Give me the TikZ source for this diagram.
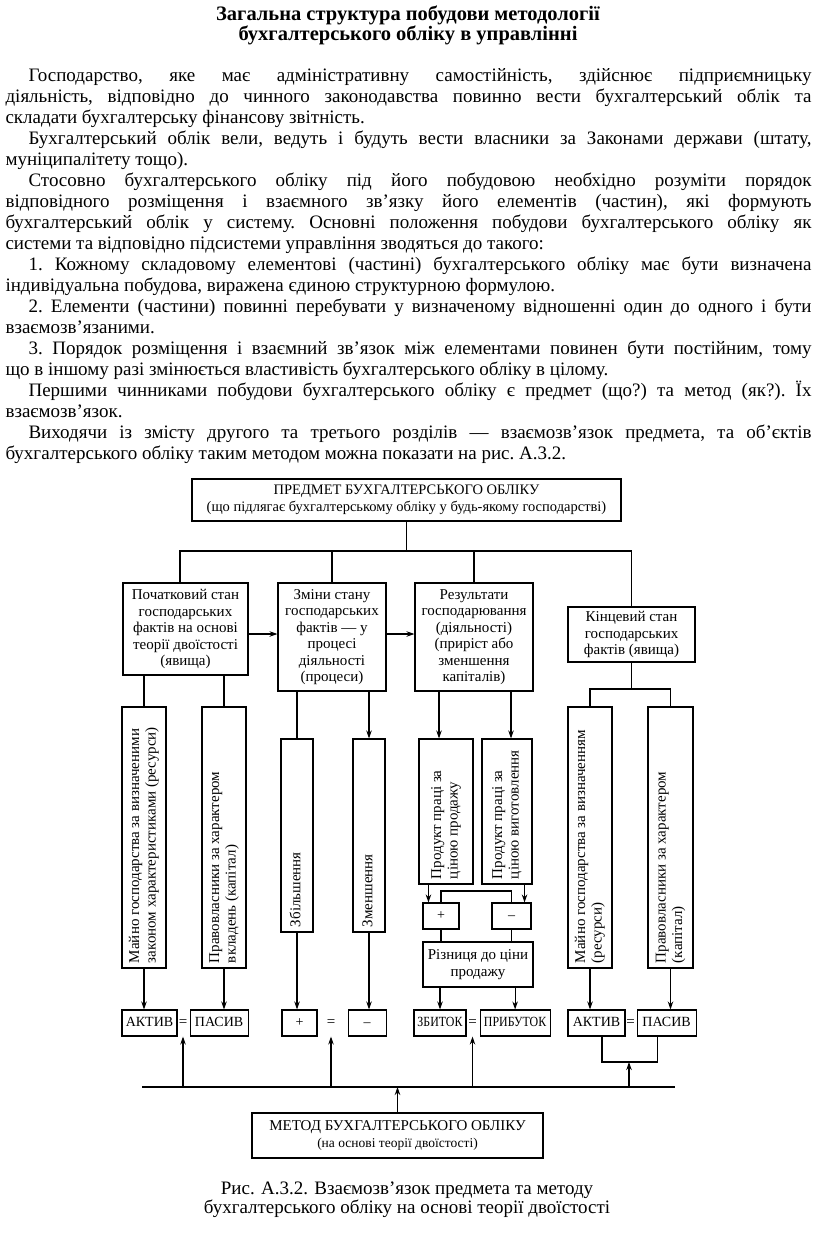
\documentclass[tikz,border=0pt]{standalone}
\usepackage{fontspec}
\setmainfont{Liberation Serif}
\newfontfamily\narrowfont{Liberation Serif}[FakeStretch=0.85]
\usepackage{graphicx}
\usetikzlibrary{arrows.meta, positioning}

\newcommand{\uptext}[2]{\rotatebox{90}{\makebox[#1][l]{\begin{tabular}{@{}l@{}}#2\end{tabular}}}}

\begin{document}
\begin{tikzpicture}[x=1pt, y=-1pt, line width=1.1pt,
  >={Stealth[length=8pt, width=5.5pt]},
  box/.style={draw, rectangle, align=center, inner sep=2pt, font=\fontsize{15}{16.5}\selectfont},
  upbox/.style={draw, rectangle, inner sep=2pt, font=\fontsize{15}{16.5}\selectfont},
  tag/.style={draw, rectangle, inner sep=1pt, minimum height=26pt, text height=10pt, text depth=3pt,
    font=\fontsize{14}{15}\selectfont},
  eqsign/.style={inner sep=0pt, minimum height=26pt, font=\fontsize{15}{16}\selectfont}]

  \useasboundingbox (0,0) rectangle (816,1237);

  % text above the figure
  \node (title) [align=center, font=\fontsize{20.5}{20}\selectfont\bfseries] at (408,25)
    {Загальна структура побудови методології\\бухгалтерського обліку в управлінні};
  \node (body) [anchor=north west, text width=806pt, align=justify, inner sep=0pt,
    font=\fontsize{19}{21}\selectfont] at (5,67.5) {%
    \frenchspacing\tolerance=10000 \hyphenpenalty=10000 \parindent=0pt
    \hspace*{23pt}Господарство, яке має адміністративну самостійність, здійснює підприємницьку\linebreak
    діяльність, відповідно до чинного законодавства повинно вести бухгалтерський облік та\linebreak
    складати бухгалтерську фінансову звітність.\par
    \hspace*{23pt}Бухгалтерський облік вели, ведуть і будуть вести власники за Законами держави (штату,\linebreak
    муніципалітету тощо).\par
    \hspace*{23pt}Стосовно бухгалтерського обліку під його побудовою необхідно розуміти порядок\linebreak
    відповідного розміщення і взаємного зв’язку його елементів (частин), які формують\linebreak
    бухгалтерський облік у систему. Основні положення побудови бухгалтерського обліку як\linebreak
    системи та відповідно підсистеми управління зводяться до такого:\par
    \hspace*{23pt}1. Кожному складовому елементові (частині) бухгалтерського обліку має бути визначена\linebreak
    індивідуальна побудова, виражена єдиною структурною формулою.\par
    \hspace*{23pt}2. Елементи (частини) повинні перебувати у визначеному відношенні один до одного і бути\linebreak
    взаємозв’язаними.\par
    \hspace*{23pt}3. Порядок розміщення і взаємний зв’язок між елементами повинен бути постійним, тому\linebreak
    що в іншому разі змінюється властивість бухгалтерського обліку в цілому.\par
    \hspace*{23pt}Першими чинниками побудови бухгалтерського обліку є предмет (що?) та метод (як?). Їх\linebreak
    взаємозв’язок.\par
    \hspace*{23pt}Виходячи із змісту другого та третього розділів — взаємозв’язок предмета, та об’єктів\linebreak
    бухгалтерського обліку таким методом можна показати на рис. А.3.2.\par};

  % top level
  \node (subj) [box, minimum width=429pt, minimum height=42pt, font=\fontsize{14.5}{16.5}\selectfont] at (406.5,500)
    {ПРЕДМЕТ БУХГАЛТЕРСЬКОГО ОБЛІКУ\\(що підлягає бухгалтерському обліку у будь-якому господарстві)};
  \node (st1) [box, minimum width=125pt, minimum height=92pt] at (185.5,629)
    {Початковий стан\\господарських\\фактів на основі\\теорії двоїстості\\(явища)};
  \node (st2) [box, minimum width=108pt, minimum height=108pt] at (332,637)
    {Зміни стану\\господарських\\фактів — у\\процесі\\діяльності\\(процеси)};
  \node (st3) [box, minimum width=118pt, minimum height=108pt] at (474,637)
    {Результати\\господарювання\\(діяльності)\\(приріст або\\зменшення\\капіталів)};
  \node (st4) [box, minimum width=127pt, minimum height=55pt] at (631.5,634.5)
    {Кінцевий стан\\господарських\\фактів (явища)};

  % vertical boxes
  \node (a1) [upbox, minimum width=44pt, minimum height=261pt] at (144,837.5)
    {\uptext{251pt}{Майно господарства за визначеними\\законом характеристиками (ресурси)}};
  \node (a2) [upbox, minimum width=44pt, minimum height=261pt] at (224,837.5)
    {\uptext{251pt}{Правовласники за характером\\вкладень (капітал)}};
  \node (inc) [upbox, minimum width=32pt, minimum height=193pt] at (297,835.5)
    {\uptext{183pt}{Збільшення}};
  \node (dec) [upbox, minimum width=32pt, minimum height=193pt] at (369,835.5)
    {\uptext{183pt}{Зменшення}};
  \node (pp1) [upbox, minimum width=54pt, minimum height=145pt] at (446,811.5)
    {\uptext{135pt}{Продукт праці за\\ціною продажу}};
  \node (pp2) [upbox, minimum width=50pt, minimum height=145pt] at (507,811.5)
    {\uptext{135pt}{Продукт праці за\\ціною виготовлення}};
  \node (a3) [upbox, minimum width=44pt, minimum height=261pt] at (590,837.5)
    {\uptext{251pt}{Майно господарства за визначенням\\(ресурси)}};
  \node (a4) [upbox, minimum width=45pt, minimum height=261pt] at (670.5,837.5)
    {\uptext{251pt}{Правовласники за характером\\(капітал)}};

  % result of sales
  \node (plus) [tag, minimum width=36pt] at (441,916) {+};
  \node (minus) [tag, minimum width=39pt] at (511.5,916) {–};
  \node (diff) [box, minimum width=110pt, minimum height=45pt] at (478,964.5)
    {Різниця до ціни\\продажу};

  % balance row
  \node (act1) [tag, minimum width=55pt] at (149.5,1023) {АКТИВ};
  \node (pas1) [tag, minimum width=58pt, right=12pt of act1] {ПАСИВ};
  \node (eq1) [eqsign] at (183,1023) {=};
  \node (sum) [tag, minimum width=35pt] at (299.5,1023) {+};
  \node (sub) [tag, minimum width=38pt, right=30pt of sum] {–};
  \node (eq2) [eqsign] at (331,1023) {=};
  \node (loss) [tag, minimum width=52pt, font=\fontsize{14}{15}\narrowfont] at (440,1023) {ЗБИТОК};
  \node (profit) [tag, minimum width=70pt, font=\fontsize{14}{15}\narrowfont, right=13pt of loss] {ПРИБУТОК};
  \node (eq3) [eqsign] at (472.5,1023) {=};
  \node (act2) [tag, minimum width=57pt] at (596.5,1023) {АКТИВ};
  \node (pas2) [tag, minimum width=59pt, right=11pt of act2] {ПАСИВ};
  \node (eq4) [eqsign] at (630.5,1023) {=};

  \node (method) [box, minimum width=291pt, minimum height=45pt] at (397.5,1135.5)
    {МЕТОД БУХГАЛТЕРСЬКОГО ОБЛІКУ\\{\fontsize{13.5}{15}\selectfont(на основі теорії двоїстості)}};

  \node (caption) [align=center, font=\fontsize{19}{19}\selectfont] at (407,1200)
    {Рис. А.3.2. Взаємозв’язок предмета та методу\\бухгалтерського обліку на основі теорії двоїстості};

  % connectors, upper part
  \coordinate (hub) at (406.5,551);
  \coordinate (flow) at (0,634);
  \draw (subj.south) -- (hub);
  \draw ([xshift=-5.5pt]st1.north) |- (hub) -| (st4.north);
  \draw (st2.north) -- (st2.north |- hub);
  \draw (st3.north) -- (st3.north |- hub);
  \draw[->] (st1.east |- flow) -- (st2.west |- flow);
  \draw[->] (st2.east |- flow) -- (st3.west |- flow);

  \draw (st1.south -| a1.north) -- (a1.north);
  \draw (st1.south -| a2.north) -- (a2.north);
  \draw (st2.south -| inc.north) -- (inc.north);
  \draw[->] (st2.south -| dec.north) -- (dec.north);
  \coordinate (d1) at ([xshift=-7pt]pp1.north);
  \coordinate (d2) at ([xshift=4pt]pp2.north);
  \draw[->] (st3.south -| d1) -- (d1);
  \draw[->] (st3.south -| d2) -- (d2);
  \coordinate (rb) at (631.5,689);
  \draw (a3.north) |- (rb) -| (a4.north);
  \draw (st4.south) -- (st4.south |- rb);

  % connectors, lower part
  \coordinate (pin) at ([xshift=6pt]plus.north west);
  \coordinate (min) at ([xshift=-7pt]minus.north east);
  \coordinate (pm) at (476,891);
  \draw[->] (pp1.south -| pin) -- (pin);
  \draw[->] (pp2.south -| min) -- (min);
  \draw (plus.north) |- (pm) -| (minus.north);
  \draw (plus.south) -- (plus.south |- diff.north);
  \draw (minus.south) -- (minus.south |- diff.north);
  \draw[->] (diff.south -| loss.north) -- (loss.north);
  \draw[->] (diff.south -| profit.north) -- (profit.north);

  \draw[->] (a1.south) -- (a1.south |- act1.north);
  \draw[->] (a2.south) -- (a2.south |- pas1.north);
  \draw[->] (inc.south) -- (inc.south |- sum.north);
  \draw[->] (dec.south) -- (dec.south |- sub.north);
  \draw[->] (a3.south) -- (a3.south |- act2.north);
  \draw[->] (a4.south) -- (a4.south |- pas2.north);

  % method line
  \coordinate (busL) at (142,1087);
  \coordinate (busR) at (675,1087);
  \coordinate (rb2) at (629,1062);
  \draw (busL) -- (busR);
  \draw[->] (busL -| eq1) -- (eq1.south);
  \draw[->] (busL -| eq2) -- (eq2.south);
  \draw[->] (busL -| eq3) -- (eq3.south);
  \draw ([xshift=5.5pt]act2.south) |- (rb2) -| ([xshift=-9.5pt]pas2.south);
  \draw[->] (busL -| rb2) -- (rb2);
  \draw[->] (method.north) -- (method.north |- busL);
\end{tikzpicture}
\end{document}
